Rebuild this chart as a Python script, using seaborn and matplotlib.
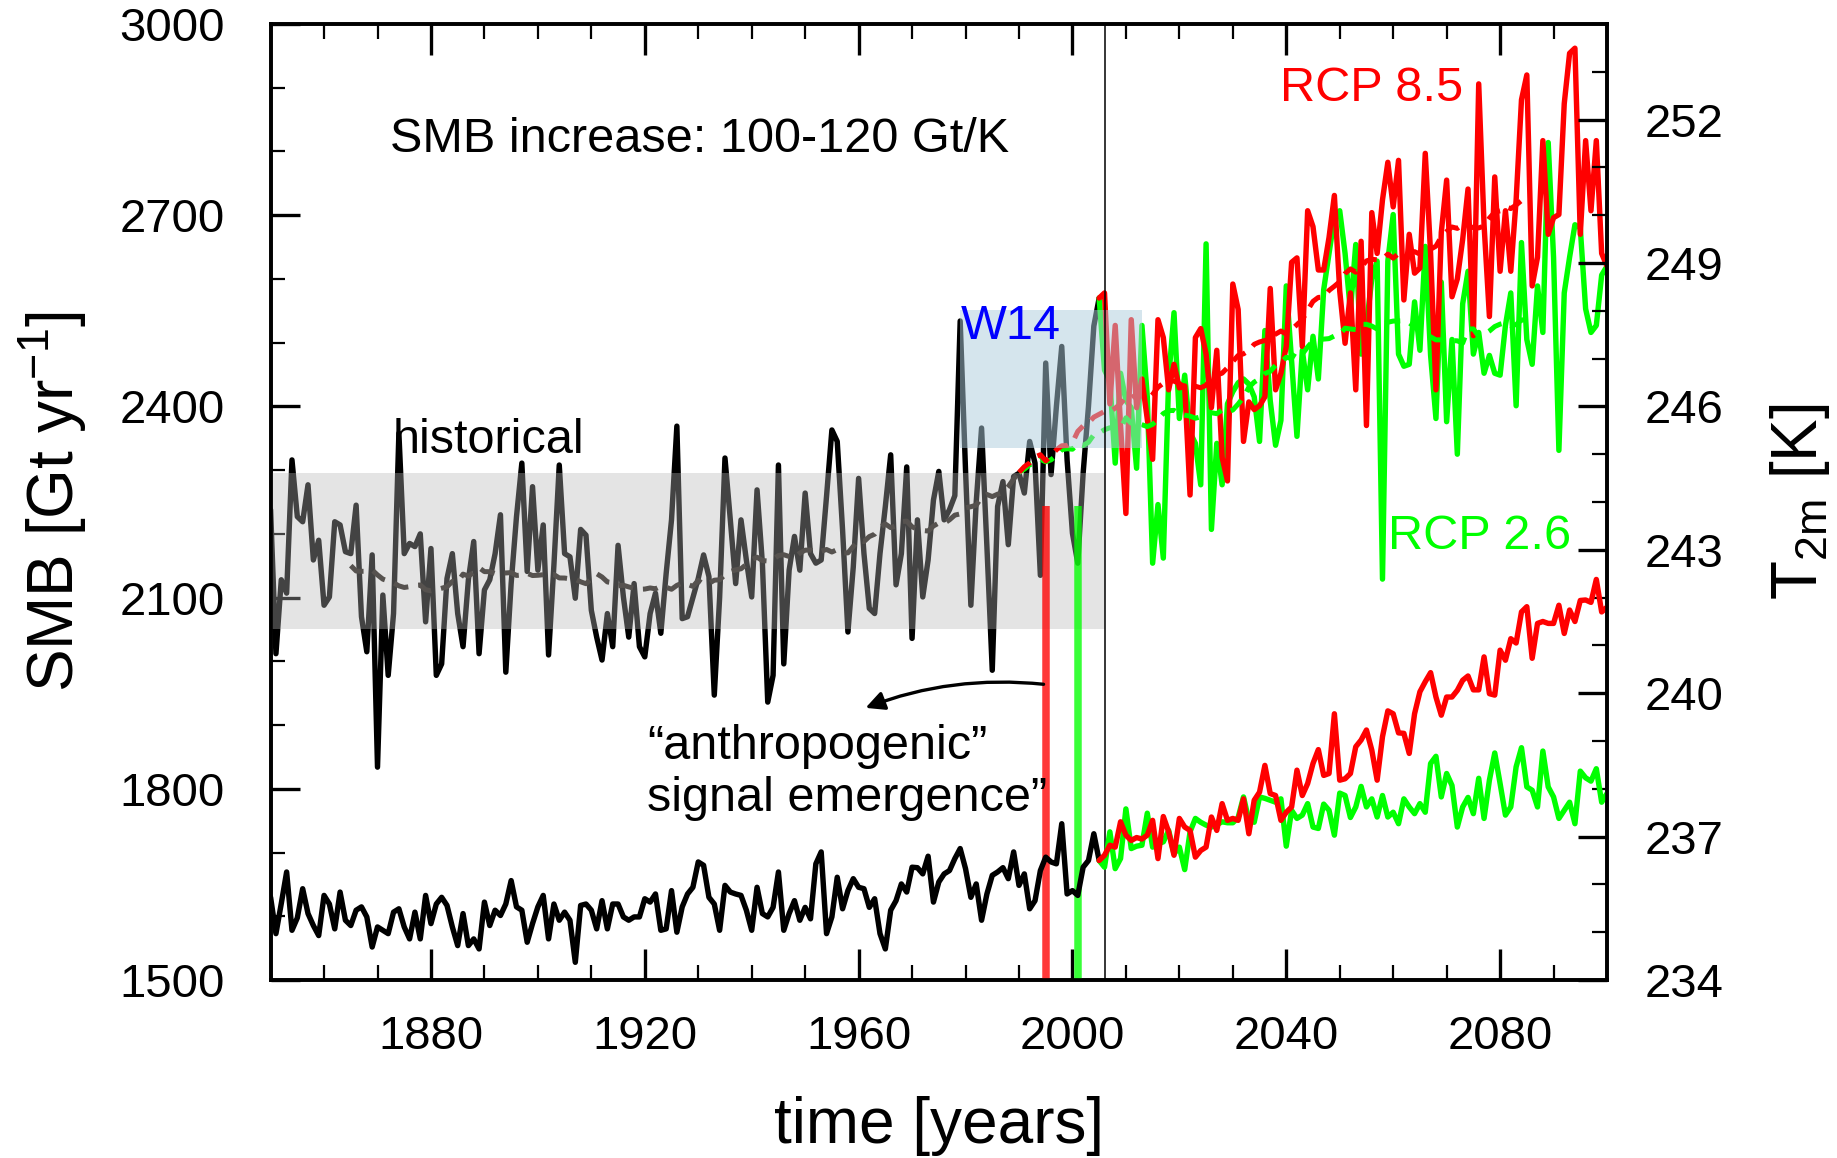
import numpy as np
import pandas as pd
import matplotlib
matplotlib.use("Agg")
import matplotlib.pyplot as plt
from matplotlib.ticker import MultipleLocator
import seaborn as sns

sns.set_style("ticks")
plt.rcParams["font.family"] = ["Liberation Sans", "DejaVu Sans"]
plt.rcParams["mathtext.fontset"] = "custom"
plt.rcParams["mathtext.rm"] = "Liberation Sans"
plt.rcParams["mathtext.it"] = "Liberation Sans:italic"
for key in ("text.color", "axes.labelcolor", "axes.edgecolor", "xtick.color", "ytick.color"):
    plt.rcParams[key] = "black"

# ---------------------------------------------------------------- data
hist_years = list(range(1850, 2006))
proj_years = list(range(2006, 2101))

# surface mass balance [Gt/yr]
smb_hist = [
    2238, 2012, 2128, 2107, 2316, 2227, 2219, 2277, 2159, 2190,
    2088, 2101, 2219, 2214, 2172, 2169, 2245, 2070, 2015, 2167,
    1834, 2104, 1978, 2075, 2358, 2169, 2185, 2180, 2200, 2062,
    2177, 1978, 1996, 2130, 2169, 2075, 2023, 2128, 2188, 2012,
    2112, 2128, 2169, 2230, 1983, 2122, 2227, 2311, 2141, 2274,
    2143, 2214, 2010, 2151, 2308, 2169, 2164, 2099, 2207, 2198,
    2080, 2038, 2002, 2075, 2023, 2182, 2101, 2038, 2122, 2023,
    2007, 2075, 2107, 2044, 2138, 2222, 2369, 2067, 2070, 2100,
    2130, 2167, 2133, 1947, 2100, 2319, 2222, 2122, 2222, 2159,
    2101, 2269, 2154, 1936, 1978, 2308, 1996, 2143, 2196, 2143,
    2264, 2169, 2154, 2159, 2259, 2363, 2345, 2206, 2046, 2148,
    2287, 2169, 2083, 2075, 2169, 2243, 2324, 2120, 2169, 2305,
    2036, 2222, 2101, 2159, 2253, 2298, 2222, 2238, 2260, 2534,
    2300, 2088, 2250, 2366, 2180, 1986, 2243, 2282, 2183, 2290,
    2295, 2264, 2345, 2311, 2135, 2468, 2293, 2400, 2494, 2316,
    2201, 2154, 2295, 2400, 2526, 2570,
]
smb_rcp85 = [
    2578, 2404, 2527, 2370, 2232, 2536, 2398, 2443, 2380, 2317,
    2536, 2508, 2426, 2466, 2429, 2432, 2261, 2508, 2522, 2482,
    2398, 2488, 2320, 2283, 2592, 2552, 2345, 2407, 2395, 2401,
    2415, 2585, 2426, 2452, 2494, 2626, 2633, 2494, 2707, 2682,
    2614, 2614, 2665, 2731, 2581, 2499, 2578, 2426, 2659, 2370,
    2704, 2640, 2724, 2783, 2713, 2786, 2567, 2670, 2609, 2617,
    2797, 2640, 2426, 2673, 2755, 2572, 2600, 2662, 2741, 2511,
    2906, 2685, 2541, 2760, 2612, 2707, 2612, 2724, 2881, 2920,
    2589, 2634, 2817, 2670, 2696, 2701, 2875, 2954, 2962, 2670,
    2817, 2707, 2817, 2640, 2620,
]
smb_rcp26 = [
    2457, 2440, 2311, 2452, 2409, 2398, 2303, 2527, 2415, 2154,
    2246, 2162, 2443, 2547, 2381, 2449, 2359, 2342, 2277, 2655,
    2207, 2342, 2277, 2404, 2423, 2437, 2443, 2435, 2415, 2345,
    2519, 2409, 2339, 2378, 2589, 2471, 2353, 2488, 2426, 2510,
    2443, 2583, 2640, 2696, 2707, 2640, 2550, 2654, 2482, 2527,
    2600, 2628, 2129, 2628, 2701, 2482, 2463, 2466, 2564, 2488,
    2651, 2480, 2381, 2595, 2376, 2505, 2325, 2561, 2612, 2482,
    2516, 2452, 2480, 2452, 2449, 2527, 2578, 2401, 2657, 2505,
    2466, 2589, 2516, 2814, 2634, 2331, 2578, 2634, 2685, 2680,
    2553, 2516, 2527, 2606, 2620,
]

# near-surface temperature [K]
t2m_hist = [
    235.73, 234.97, 235.60, 236.26, 235.04, 235.30, 235.91, 235.39, 235.14, 234.93,
    235.77, 235.59, 235.07, 235.84, 235.25, 235.14, 235.46, 235.53, 235.32, 234.69,
    235.11, 235.04, 234.97, 235.42, 235.49, 235.11, 234.86, 235.42, 234.86, 235.77,
    235.18, 235.59, 235.73, 235.56, 235.11, 234.72, 235.39, 234.72, 234.86, 234.65,
    235.63, 235.14, 235.46, 235.35, 235.59, 236.08, 235.53, 235.46, 234.79, 235.18,
    235.53, 235.77, 234.86, 235.59, 235.25, 235.42, 235.25, 234.37, 235.56, 235.59,
    235.46, 235.07, 235.66, 235.07, 235.59, 235.59, 235.32, 235.25, 235.32, 235.32,
    235.70, 235.63, 235.80, 235.04, 235.07, 235.87, 235.00, 235.53, 235.80, 235.94,
    236.47, 236.40, 235.73, 235.59, 235.04, 235.98, 235.84, 235.80, 235.77, 235.46,
    235.04, 235.94, 235.39, 235.32, 235.52, 236.26, 235.04, 235.39, 235.66, 235.25,
    235.52, 235.28, 236.43, 236.68, 234.97, 235.32, 236.15, 235.49, 235.87, 236.12,
    235.94, 235.91, 235.52, 235.70, 234.97, 234.65, 235.46, 235.66, 236.01, 235.84,
    236.36, 236.35, 236.22, 236.59, 235.63, 236.05, 236.22, 236.29, 236.54, 236.75,
    236.33, 235.73, 236.01, 235.25, 235.80, 236.19, 236.26, 236.35, 236.12, 236.68,
    235.98, 236.22, 235.49, 235.66, 236.29, 236.57, 236.47, 236.43, 237.27, 235.80,
    235.87, 235.77, 236.36, 236.50, 237.06, 236.50,
]
t2m_rcp85 = [
    236.61, 236.82, 236.78, 237.31, 237.03, 236.92, 236.98, 236.95, 237.03, 237.34,
    236.54, 237.42, 237.10, 236.61, 237.38, 237.20, 237.13, 236.57, 236.71, 236.78,
    237.41, 237.13, 237.69, 237.34, 237.38, 237.34, 237.79, 237.06, 237.76, 237.93,
    238.49, 237.90, 237.86, 237.34, 237.51, 237.62, 238.39, 237.86, 238.11, 238.53,
    238.82, 238.28, 238.32, 239.57, 238.18, 238.21, 238.32, 238.88, 239.02, 239.23,
    238.81, 238.18, 239.09, 239.63, 239.57, 239.17, 239.16, 238.74, 239.57, 240.03,
    240.24, 240.43, 239.92, 239.54, 239.92, 239.92, 240.06, 240.27, 240.36, 240.07,
    240.07, 240.76, 239.99, 239.96, 240.90, 240.69, 241.14, 241.05, 241.70, 241.81,
    240.73, 241.46, 241.50, 241.46, 241.46, 241.84, 241.25, 241.74, 241.50, 241.94,
    241.95, 241.90, 242.38, 241.70, 241.80,
]
t2m_rcp26 = [
    236.36, 237.10, 236.33, 236.54, 237.58, 236.75, 236.80, 236.82, 237.49, 236.78,
    236.85, 236.89, 237.13, 236.64, 236.78, 236.31, 237.10, 237.38, 237.30, 237.24,
    237.20, 237.25, 237.31, 237.29, 237.29, 237.40, 237.83, 237.34, 237.30, 237.83,
    237.80, 237.76, 237.72, 237.79, 236.80, 237.55, 237.38, 237.45, 237.69, 237.20,
    237.17, 237.68, 237.55, 237.03, 237.91, 237.86, 237.40, 237.62, 238.05, 237.62,
    237.79, 237.41, 237.86, 237.41, 237.51, 237.27, 237.79, 237.62, 237.48, 237.69,
    237.51, 238.53, 238.68, 237.83, 238.32, 238.07, 237.20, 237.62, 237.82, 237.48,
    238.22, 237.38, 238.18, 238.75, 238.11, 237.45, 237.62, 238.46, 238.86, 238.04,
    237.97, 237.62, 238.79, 238.04, 237.83, 237.38, 237.55, 237.72, 237.27, 238.37,
    238.23, 238.16, 238.42, 237.72, 237.90,
]

# year of signal emergence per scenario and the SMB level the markers reach
emergence_years = {"RCP 8.5": 1995, "RCP 2.6": 2001}
emergence_top = 2243
# historical variability band (SMB range) and W14 reference box
hist_band_smb = (2050, 2295)
w14_years = (1979, 2013)
w14_smb = (2335, 2552)
scenario_start = 2006
smooth_window = 31

RED = "#ff0000"
GREEN = "#00ff00"

# ---------------------------------------------------------------- smoothed curves
all_years = hist_years + proj_years
smooth85 = pd.Series(smb_hist + smb_rcp85, index=all_years).rolling(smooth_window, center=True).mean()
smooth26 = pd.Series(smb_hist + smb_rcp26, index=all_years).rolling(smooth_window, center=True).mean()
half = smooth_window // 2
last_hist = hist_years[-1] - half
smooth_hist = smooth85.loc[:last_hist].dropna()
smooth85_p = smooth85.loc[last_hist:].dropna()
smooth26_p = smooth26.loc[last_hist:].dropna()

# ---------------------------------------------------------------- figure
fig = plt.figure(figsize=(18.37, 11.58), dpi=100)
ax = fig.add_axes([0.1473, 0.1537, 0.7275, 0.8256])
ax2 = ax.twinx()

lw = 3.9
sns.lineplot(x=hist_years, y=smb_hist, ax=ax, color="black", lw=lw, zorder=2)
sns.lineplot(x=[hist_years[-1]] + proj_years, y=[smb_hist[-1]] + smb_rcp26, ax=ax,
             color=GREEN, lw=lw, zorder=2)
sns.lineplot(x=[hist_years[-1]] + proj_years, y=[smb_hist[-1]] + smb_rcp85, ax=ax,
             color=RED, lw=lw, zorder=2.1)

dash = (0, (3.0, 2.0))
sns.lineplot(x=smooth_hist.index, y=smooth_hist.values, ax=ax, color="#1e1812",
             lw=3.6, ls=dash, zorder=2.5)
sns.lineplot(x=smooth26_p.index, y=smooth26_p.values, ax=ax, color=GREEN,
             lw=3.6, ls=dash, zorder=2.5)
sns.lineplot(x=smooth85_p.index, y=smooth85_p.values, ax=ax, color=RED,
             lw=3.6, ls=dash, zorder=2.6)

# shaded historical range and W14 box
ax.fill_between([hist_years[0], scenario_start], hist_band_smb[0], hist_band_smb[1],
                color=(184 / 255, 184 / 255, 184 / 255), alpha=0.37, lw=0, zorder=3)
ax.fill_between(list(w14_years), w14_smb[0], w14_smb[1],
                color=(173 / 255, 204 / 255, 220 / 255), alpha=0.5, lw=0, zorder=3)

# emergence markers
ax.vlines(emergence_years["RCP 8.5"], 1500, emergence_top, color=RED, alpha=0.78,
          lw=5.4, zorder=4)
ax.vlines(emergence_years["RCP 2.6"], 1500, emergence_top, color=GREEN, alpha=0.78,
          lw=5.4, zorder=4)
ax.axvline(scenario_start, color="black", lw=1.1, zorder=4)

# temperature on the right axis
sns.lineplot(x=hist_years, y=t2m_hist, ax=ax2, color="black", lw=lw)
sns.lineplot(x=[hist_years[-1]] + proj_years, y=[t2m_hist[-1]] + t2m_rcp26, ax=ax2,
             color=GREEN, lw=lw)
sns.lineplot(x=[hist_years[-1]] + proj_years, y=[t2m_hist[-1]] + t2m_rcp85, ax=ax2,
             color=RED, lw=lw)

# ---------------------------------------------------------------- annotations
fs = 35
ax.text(1872.3, 2818, "SMB increase: 100-120 Gt/K", fontsize=fs, ha="left", va="center", zorder=6)
ax.text(1872.8, 2346, "historical", fontsize=fs, ha="left", va="center", zorder=6)
ax.text(1979.2, 2525, "W14", fontsize=fs, color="#0000ff", ha="left", va="center", zorder=6)
ax.text(2038.9, 2898, "RCP 8.5", fontsize=fs, color=RED, ha="left", va="center", zorder=6)
ax.text(2059.0, 2196, "RCP 2.6", fontsize=fs, color=GREEN, ha="left", va="center", zorder=6)
ax.text(1920.4, 1826, "\u201canthropogenic\u201d\nsignal emergence\u201d", fontsize=fs,
        ha="left", va="center", linespacing=1.2, zorder=6)
ax.annotate("", xy=(1961.3, 1927), xytext=(emergence_years["RCP 8.5"] - 0.4, 1964),
            arrowprops=dict(arrowstyle="-|>", connectionstyle="arc3,rad=0.12",
                            color="black", lw=2.4, mutation_scale=28,
                            shrinkA=0, shrinkB=0), zorder=6)

# ---------------------------------------------------------------- axes
ax.set_xlim(1850, 2100)
ax.set_ylim(1500, 3000)
ax2.set_ylim(234, 254)
ax.set_xticks([1880, 1920, 1960, 2000, 2040, 2080])
ax.xaxis.set_minor_locator(MultipleLocator(10))
ax.set_yticks(list(range(1500, 3001, 300)))
ax.yaxis.set_minor_locator(MultipleLocator(100))
ax2.set_yticks(list(range(234, 253, 3)))
ax2.yaxis.set_minor_locator(MultipleLocator(1))

tick_fs = 34
ax.tick_params(axis="x", which="both", direction="in", top=True, bottom=True,
               labelsize=tick_fs, pad=25, width=2.4)
ax.tick_params(axis="x", which="major", length=22)
ax.tick_params(axis="x", which="minor", length=11, width=1.6)
ax.tick_params(axis="y", which="both", direction="in", left=True, right=False,
               labelsize=tick_fs, pad=33, width=2.4)
ax.tick_params(axis="y", which="major", length=21)
ax.tick_params(axis="y", which="minor", length=10, width=1.6)
ax2.tick_params(axis="y", which="both", direction="in", right=True, left=False,
                labelsize=tick_fs, pad=27, width=2.4)
ax2.tick_params(axis="y", which="major", length=21)
ax2.tick_params(axis="y", which="minor", length=11, width=1.6)

for a in (ax, ax2):
    for s in a.spines.values():
        s.set_linewidth(2.6)
        s.set_color("black")
        s.set_visible(True)

lab_fs = 46
ax.set_xlabel("time [years]", fontsize=lab_fs)
ax.set_ylabel(r"SMB [Gt yr$^{\mathregular{-1}}$]", fontsize=lab_fs)
ax2.set_ylabel(r"T$_{\mathregular{2m}}$ [K]", fontsize=lab_fs)
ax.xaxis.set_label_coords(0.5, -0.1525)
ax.xaxis.label.set_va("center")
ax.yaxis.set_label_coords(-0.1627, 0.5)
ax.yaxis.label.set_va("center")
ax2.yaxis.set_label_coords(1.1444, 0.5)
ax2.yaxis.label.set_va("center")
ax2.yaxis.label.set_rotation(90)

fig.savefig("out.png", dpi=100)
